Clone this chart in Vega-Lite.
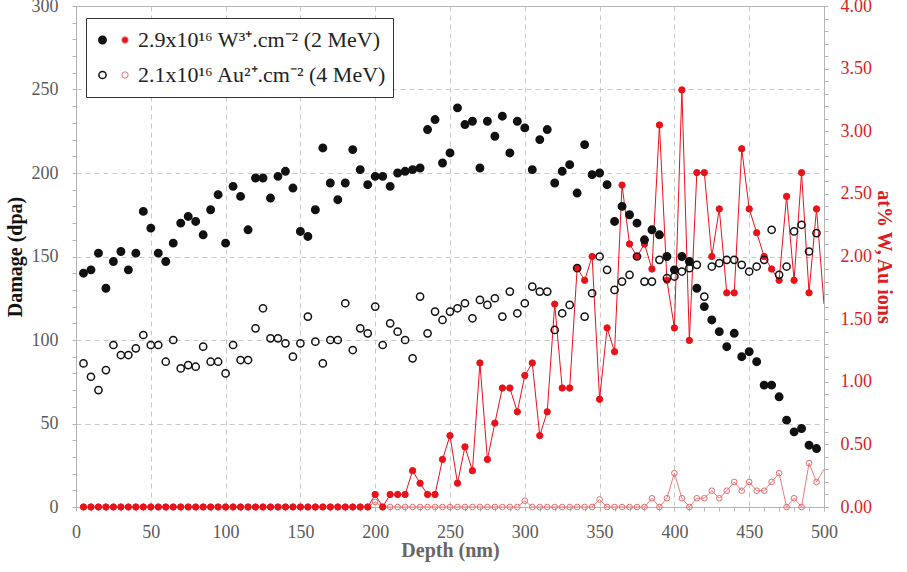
{
  "$schema": "https://vega.github.io/schema/vega-lite/v6.json",
  "width": 748,
  "height": 501,
  "autosize": {"type": "none"},
  "padding": {"left": 76, "top": 6, "right": 83, "bottom": 65},
  "background": "white",
  "config": {
    "view": {"stroke": "#b4b4b4", "strokeWidth": 1},
    "font": "Liberation Serif"
  },
  "data": {"values": [
    {"d":5,"wd":140,"ad":86,"wa":0,"aa":0},
    {"d":10,"wd":142,"ad":78,"wa":0,"aa":0},
    {"d":15,"wd":152,"ad":70,"wa":0,"aa":0},
    {"d":20,"wd":131,"ad":82,"wa":0,"aa":0},
    {"d":25,"wd":147,"ad":97,"wa":0,"aa":0},
    {"d":30,"wd":153,"ad":91,"wa":0,"aa":0},
    {"d":35,"wd":142,"ad":91,"wa":0,"aa":0},
    {"d":40,"wd":152,"ad":95,"wa":0,"aa":0},
    {"d":45,"wd":177,"ad":103,"wa":0,"aa":0},
    {"d":50,"wd":167,"ad":97,"wa":0,"aa":0},
    {"d":55,"wd":152,"ad":97,"wa":0,"aa":0},
    {"d":60,"wd":147,"ad":87,"wa":0,"aa":0},
    {"d":65,"wd":158,"ad":100,"wa":0,"aa":0},
    {"d":70,"wd":170,"ad":83,"wa":0,"aa":0},
    {"d":75,"wd":174,"ad":85,"wa":0,"aa":0},
    {"d":80,"wd":171,"ad":84,"wa":0,"aa":0},
    {"d":85,"wd":163,"ad":96,"wa":0,"aa":0},
    {"d":90,"wd":178,"ad":87,"wa":0,"aa":0},
    {"d":95,"wd":187,"ad":87,"wa":0,"aa":0},
    {"d":100,"wd":158,"ad":80,"wa":0,"aa":0},
    {"d":105,"wd":192,"ad":97,"wa":0,"aa":0},
    {"d":110,"wd":186,"ad":88,"wa":0,"aa":0},
    {"d":115,"wd":166,"ad":88,"wa":0,"aa":0},
    {"d":120,"wd":197,"ad":107,"wa":0,"aa":0},
    {"d":125,"wd":197,"ad":119,"wa":0,"aa":0},
    {"d":130,"wd":185,"ad":101,"wa":0,"aa":0},
    {"d":135,"wd":198,"ad":101,"wa":0,"aa":0},
    {"d":140,"wd":201,"ad":98,"wa":0,"aa":0},
    {"d":145,"wd":191,"ad":90,"wa":0,"aa":0},
    {"d":150,"wd":165,"ad":98,"wa":0,"aa":0},
    {"d":155,"wd":162,"ad":114,"wa":0,"aa":0},
    {"d":160,"wd":178,"ad":99,"wa":0,"aa":0},
    {"d":165,"wd":215,"ad":86,"wa":0,"aa":0},
    {"d":170,"wd":194,"ad":100,"wa":0,"aa":0},
    {"d":175,"wd":184,"ad":100,"wa":0,"aa":0},
    {"d":180,"wd":194,"ad":122,"wa":0,"aa":0},
    {"d":185,"wd":214,"ad":94,"wa":0,"aa":0},
    {"d":190,"wd":202,"ad":107,"wa":0,"aa":0},
    {"d":195,"wd":193,"ad":104,"wa":0,"aa":0},
    {"d":200,"wd":198,"ad":120,"wa":0.1,"aa":0.04},
    {"d":205,"wd":198,"ad":97,"wa":0,"aa":0},
    {"d":210,"wd":192,"ad":110,"wa":0.1,"aa":0},
    {"d":215,"wd":200,"ad":105,"wa":0.1,"aa":0},
    {"d":220,"wd":201,"ad":100,"wa":0.1,"aa":0},
    {"d":225,"wd":202,"ad":89,"wa":0.29,"aa":0},
    {"d":230,"wd":203,"ad":126,"wa":0.19,"aa":0},
    {"d":235,"wd":226,"ad":104,"wa":0.1,"aa":0},
    {"d":240,"wd":232,"ad":117,"wa":0.1,"aa":0},
    {"d":245,"wd":206,"ad":112,"wa":0.38,"aa":0},
    {"d":250,"wd":212,"ad":117,"wa":0.57,"aa":0},
    {"d":255,"wd":239,"ad":119,"wa":0.19,"aa":0},
    {"d":260,"wd":229,"ad":122,"wa":0.48,"aa":0},
    {"d":265,"wd":231,"ad":113,"wa":0.29,"aa":0},
    {"d":270,"wd":203,"ad":124,"wa":1.15,"aa":0},
    {"d":275,"wd":231,"ad":121,"wa":0.38,"aa":0},
    {"d":280,"wd":222,"ad":125,"wa":0.67,"aa":0},
    {"d":285,"wd":234,"ad":114,"wa":0.95,"aa":0},
    {"d":290,"wd":212,"ad":129,"wa":0.95,"aa":0},
    {"d":295,"wd":231,"ad":116,"wa":0.76,"aa":0},
    {"d":300,"wd":227,"ad":122,"wa":1.05,"aa":0.05},
    {"d":305,"wd":202,"ad":132,"wa":1.15,"aa":0},
    {"d":310,"wd":220,"ad":129,"wa":0.57,"aa":0},
    {"d":315,"wd":226,"ad":129,"wa":0.76,"aa":0},
    {"d":320,"wd":194,"ad":106,"wa":1.62,"aa":0},
    {"d":325,"wd":201,"ad":116,"wa":0.95,"aa":0},
    {"d":330,"wd":205,"ad":121,"wa":0.95,"aa":0},
    {"d":335,"wd":188,"ad":143,"wa":1.91,"aa":0},
    {"d":340,"wd":217,"ad":114,"wa":1.81,"aa":0},
    {"d":345,"wd":199,"ad":128,"wa":2.0,"aa":0},
    {"d":350,"wd":200,"ad":150,"wa":0.86,"aa":0.06},
    {"d":355,"wd":193,"ad":142,"wa":1.43,"aa":0},
    {"d":360,"wd":171,"ad":130,"wa":1.24,"aa":0},
    {"d":365,"wd":180,"ad":135,"wa":2.57,"aa":0},
    {"d":370,"wd":175,"ad":139,"wa":2.1,"aa":0},
    {"d":375,"wd":170,"ad":150,"wa":2.0,"aa":0},
    {"d":380,"wd":160,"ad":135,"wa":2.1,"aa":0},
    {"d":385,"wd":166,"ad":135,"wa":1.9,"aa":0.07},
    {"d":390,"wd":163,"ad":148,"wa":3.05,"aa":0},
    {"d":395,"wd":150,"ad":137,"wa":1.81,"aa":0.07},
    {"d":400,"wd":142,"ad":138,"wa":1.43,"aa":0.27},
    {"d":405,"wd":150,"ad":141,"wa":3.33,"aa":0.07},
    {"d":410,"wd":147,"ad":143,"wa":1.33,"aa":0},
    {"d":415,"wd":131,"ad":145,"wa":2.67,"aa":0.07},
    {"d":420,"wd":120,"ad":126,"wa":2.67,"aa":0.07},
    {"d":425,"wd":112,"ad":144,"wa":2.0,"aa":0.13},
    {"d":430,"wd":105,"ad":146,"wa":2.38,"aa":0.07},
    {"d":435,"wd":96,"ad":148,"wa":1.71,"aa":0.13},
    {"d":440,"wd":104,"ad":148,"wa":1.71,"aa":0.2},
    {"d":445,"wd":90,"ad":145,"wa":2.86,"aa":0.13},
    {"d":450,"wd":93,"ad":141,"wa":2.38,"aa":0.2},
    {"d":455,"wd":87,"ad":144,"wa":2.19,"aa":0.13},
    {"d":460,"wd":73,"ad":148,"wa":2.0,"aa":0.13},
    {"d":465,"wd":73,"ad":166,"wa":1.9,"aa":0.2},
    {"d":470,"wd":66,"ad":139,"wa":1.81,"aa":0.27},
    {"d":475,"wd":52,"ad":144,"wa":2.48,"aa":0},
    {"d":480,"wd":45,"ad":165,"wa":1.81,"aa":0.07},
    {"d":485,"wd":47,"ad":169,"wa":2.67,"aa":0},
    {"d":490,"wd":37,"ad":153,"wa":1.71,"aa":0.35},
    {"d":495,"wd":35,"ad":164,"wa":2.38,"aa":0.2},
    {"d":500,"wd":null,"ad":null,"wa":1.62,"aa":0.3}
  ]},
  "encoding": {
    "x": {
      "field": "d", "type": "quantitative",
      "scale": {"domain": [0, 500], "nice": false, "zero": false},
      "axis": {
        "values": [0,10,20,30,40,50,60,70,80,90,100,110,120,130,140,150,160,170,180,190,200,210,220,230,240,250,260,270,280,290,300,310,320,330,340,350,360,370,380,390,400,410,420,430,440,450,460,470,480,490,500],
        "labelExpr": "datum.value % 50 === 0 ? datum.label : ''",
        "title": "Depth (nm)",
        "titleFont": "Liberation Serif", "titleFontSize": 20, "titleFontWeight": "bold", "titleColor": "#666666", "titlePadding": -1,
        "labelFont": "Liberation Serif", "labelFontSize": 18, "labelColor": "#5a5a5a", "labelPadding": 12,
        "labelFlush": false,
        "domainColor": "#b4b4b4", "tickColor": "#b4b4b4", "tickSize": 4,
        "grid": true, "gridDash": [5, 4], "gridColor": "#c8c8c8",
        "gridOpacity": {"condition": {"test": "datum.value % 50 === 0 && datum.value > 0 && datum.value < 500", "value": 1}, "value": 0}
      }
    }
  },
  "layer": [
    {
      "transform": [{"fold": ["wa", "aa"], "as": ["ion", "at"]}],
      "encoding": {
        "y": {
          "field": "at", "type": "quantitative",
          "scale": {"domain": [0, 4], "nice": false},
          "axis": {
            "orient": "right",
            "values": [0,0.1,0.2,0.3,0.4,0.5,0.6,0.7,0.8,0.9,1,1.1,1.2,1.3,1.4,1.5,1.6,1.7,1.8,1.9,2,2.1,2.2,2.3,2.4,2.5,2.6,2.7,2.8,2.9,3,3.1,3.2,3.3,3.4,3.5,3.6,3.7,3.8,3.9,4],
            "labelExpr": "abs(datum.value * 2 - round(datum.value * 2)) < 0.001 ? format(datum.value, '.2f') : ''",
            "title": "at% W, Au ions",
            "titleFont": "Liberation Serif", "titleFontSize": 20, "titleFontWeight": "bold", "titleColor": "#dd1c24", "titlePadding": 2,
            "labelFont": "Liberation Serif", "labelFontSize": 18, "labelColor": "#dd1c24", "labelPadding": 12,
            "labelFlush": false,
            "domainColor": "#b4b4b4", "tickColor": "#b4b4b4", "tickSize": 4,
            "grid": false
          }
        }
      },
      "layer": [
        {
          "transform": [{"filter": "datum.ion === 'aa'"}],
          "mark": {"type": "line", "strokeWidth": 1, "color": "#ef7b7b", "clip": true},
          "encoding": {}
        },
        {
          "transform": [{"filter": "datum.ion === 'wa'"}],
          "mark": {"type": "line", "strokeWidth": 1, "color": "#e8121a", "clip": true},
          "encoding": {}
        },
        {
          "transform": [{"filter": "datum.ion === 'aa' && datum.d < 500"}],
          "mark": {"type": "point", "shape": "circle", "opacity": 1, "strokeWidth": 1, "stroke": "#ec6b6e", "size": 32},
          "encoding": {
            "fill": {
              "field": "ion", "type": "nominal",
              "scale": {"domain": ["wa", "aa"], "range": ["#e8121a", "transparent"]},
              "legend": {
                "orient": "none", "legendX": 10, "legendY": 12,
                "title": null, "fillColor": "white", "strokeColor": "#333333",
                "padding": 11, "rowPadding": 13,
                "symbolType": "circle", "symbolStrokeWidth": 1, "symbolStrokeColor": "#ec6b6e", "symbolSize": 40,
                "symbolOffset": 17, "labelOffset": -3,
                "labelFont": "Liberation Serif", "labelFontSize": 22, "labelColor": "#222222", "labelOpacity": 0, "labelLimit": 400,
                "labelExpr": "datum.value === 'wa' ? '2.9x10¹⁶ W³⁺.cm⁻² (2 MeV)' : '2.1x10¹⁶ Au²⁺.cm⁻² (4 MeV)'"
              }
            }
          }
        },
        {
          "transform": [{"filter": "datum.ion === 'wa' && datum.d < 500"}],
          "mark": {"type": "point", "shape": "circle", "opacity": 1, "strokeWidth": 1, "filled": true, "fill": "#e8121a", "stroke": "#e8121a", "size": 40},
          "encoding": {}
        }
      ]
    },
    {
      "transform": [{"fold": ["wd", "ad"], "as": ["ion", "dpa"]}, {"filter": "datum.d < 500"}],
      "mark": {"type": "point", "shape": "circle", "opacity": 1, "strokeWidth": 1.5, "stroke": "#111111"},
      "encoding": {
        "y": {
          "field": "dpa", "type": "quantitative",
          "scale": {"domain": [0, 300], "nice": false},
          "axis": {
            "orient": "left",
            "values": [0,10,20,30,40,50,60,70,80,90,100,110,120,130,140,150,160,170,180,190,200,210,220,230,240,250,260,270,280,290,300],
            "labelExpr": "datum.value % 50 === 0 ? datum.label : ''",
            "title": "Damage (dpa)",
            "titleFont": "Liberation Serif", "titleFontSize": 20, "titleFontWeight": "bold", "titleColor": "#111111", "titlePadding": 6,
            "labelFont": "Liberation Serif", "labelFontSize": 18, "labelColor": "#5a5a5a", "labelPadding": 14,
            "labelFlush": false,
            "domainColor": "#b4b4b4", "tickColor": "#b4b4b4", "tickSize": 4,
            "grid": true, "gridDash": [5, 4], "gridColor": "#c8c8c8",
            "gridOpacity": {"condition": {"test": "datum.value % 50 === 0 && datum.value > 0 && datum.value < 300", "value": 1}, "value": 0}
          }
        },
        "size": {"field": "ion", "type": "nominal", "scale": {"domain": ["wd", "ad"], "range": [55, 52]}},
        "fill": {
          "field": "ion", "type": "nominal",
          "scale": {"domain": ["wd", "ad"], "range": ["#111111", "transparent"]},
          "legend": {
            "orient": "none", "legendX": 15.5, "legendY": 23,
            "title": null, "padding": 0, "rowPadding": 13,
            "symbolType": "circle", "symbolStrokeColor": "#111111", "symbolStrokeWidth": 1.5,
            "labelOffset": 24.5,
            "labelFont": "Liberation Serif", "labelFontSize": 22, "labelColor": "#222222", "labelLimit": 400,
            "labelExpr": "datum.value === 'wd' ? '2.9x10¹⁶ W³⁺.cm⁻² (2 MeV)' : '2.1x10¹⁶ Au²⁺.cm⁻² (4 MeV)'"
          }
        }
      }
    }
  ],
  "resolve": {"scale": {"y": "independent", "fill": "independent", "size": "independent"}}
}
